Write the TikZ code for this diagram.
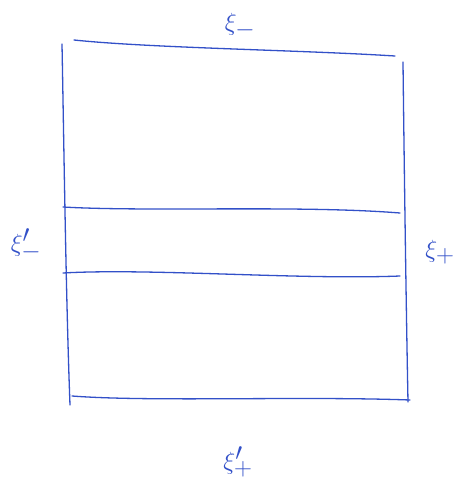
\documentclass[tikz,border=0pt]{standalone}
\begin{document}
\begin{tikzpicture}[x=1pt,y=-1pt]
\definecolor{ink}{RGB}{50,80,200}
\tikzset{pen/.style={draw=ink,line width=1.3pt,line cap=round},
 lbl/.style={text=ink,font=\fontsize{40}{42}\selectfont,inner sep=0pt}}
\useasboundingbox (0,0) rectangle (468,503);
% frame
\coordinate (tl) at (74,40);
\coordinate (tr) at (395,56);
\coordinate (lt) at (62,44);
\coordinate (lb) at (70,405);
\coordinate (bl) at (72,396);
\coordinate (br) at (410,400);
\coordinate (rt) at (403,62);
\coordinate (rb) at (408,402);
\draw[pen] (tl) .. controls (150,48) and (300,50) .. (tr);
\draw[pen] (lt) .. controls (64,150) and (66,300) .. (lb);
\draw[pen] (bl) .. controls (150,402) and (300,396) .. (br);
\draw[pen] (rt) .. controls (404,150) and (406,300) .. (rb);
% strip
\coordinate (u1) at (63,207);
\coordinate (u2) at (400,213);
\coordinate (d1) at (63,273);
\coordinate (d2) at (400,276);
\draw[pen] (u1) .. controls (150,212) and (300,205) .. (u2);
\draw[pen] (d1) .. controls (150,268) and (300,280) .. (d2);
% labels
\node[lbl] (top) at (240,26) {$\xi_-$};
\node[lbl] (left) at (26,245) {$\xi'_-$};
\node[lbl] (right) at (440,252) {$\xi_+$};
\node[lbl] (bot) at (238,462) {$\xi'_+$};
\end{tikzpicture}
\end{document}
